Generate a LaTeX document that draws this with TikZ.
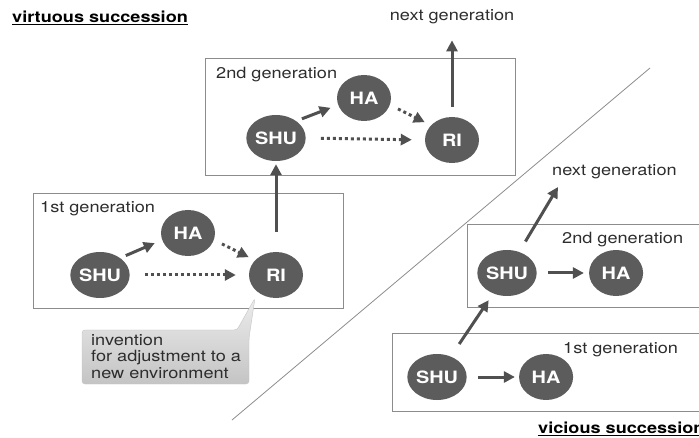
\documentclass[tikz,border=0pt]{standalone}
\usepackage{fontspec}
\setmainfont{TeX Gyre Heros}[FakeStretch=1.17]
\usetikzlibrary{arrows.meta,positioning,shapes.geometric}
\definecolor{successStage}{RGB}{92, 92, 92}
\definecolor{successArrow}{RGB}{80, 80, 80}
\definecolor{successBox}{RGB}{140, 140, 140}
\definecolor{successText}{RGB}{45, 45, 45}
\definecolor{calloutTop}{RGB}{236, 236, 236}
\definecolor{calloutBottom}{RGB}{196, 196, 196}
\newcommand\genfont{\fontsize{15.5}{16.5}\selectfont}

\begin{document}
\begin{tikzpicture}[
  x=1pt, y=-1pt,
  stage/.style={
    ellipse,
    fill=successStage,
    minimum width=54pt,
    minimum height=46pt,
    inner sep=0pt,
    text=white,
    font=\bfseries\fontsize{17}{17}\selectfont
  },
  genbox/.style={draw=successBox, line width=1pt},
  gentext/.style={anchor=west, inner sep=0pt, text=successText, font=\genfont},
  title/.style={gentext, text=black, font=\bfseries\genfont},
  arrow/.style={-{Triangle[length=11pt,width=11pt]}, line width=3pt, successArrow},
  dotarrow/.style={arrow, dash pattern=on 3pt off 3pt}
]
  \useasboundingbox (0,0) rectangle (699,438);
  \clip (0,0) rectangle (699,438);

  % virtuous succession
  \node[title] (virtTitle) at (12,18) {\underline{virtuous succession}};
  \draw[genbox] (33,194) rectangle (343,309);
  \draw[genbox] (205,59) rectangle (515,176);
  \node[gentext] (genA) at (40,209) {1st generation};
  \node[gentext] (genB) at (216,75) {2nd generation};
  \node[gentext, anchor=center] (nextA) at (452,17) {next generation};

  \node[stage] (shuA) at (100,275) {SHU};
  \node[stage] (haA) at (188,233) {HA};
  \node[stage] (riA) at (276,275) {RI};
  \node[stage] (shuB) at (276,138) {SHU};
  \node[stage] (haB) at (364,98) {HA};
  \node[stage] (riB) at (452,140) {RI};

  \draw[arrow, shorten <=6pt, shorten >=8pt] (shuA.40) -- (haA.195);
  \draw[dotarrow, shorten <=9pt, shorten >=7pt] (haA.-15) -- (riA.145);
  \draw[dotarrow, shorten <=15pt, shorten >=13pt] (shuA.east) -- (riA.west);
  \draw[arrow, shorten <=6pt, shorten >=8pt] (shuB.40) -- (haB.195);
  \draw[dotarrow, shorten <=9pt, shorten >=7pt] (haB.-15) -- (riB.145);
  \draw[dotarrow, shorten <=15pt, shorten >=13pt] (shuB.east) -- (riB.west);
  \draw[arrow, shorten <=20pt, shorten >=3pt] (riA) -- (shuB);
  \draw[arrow, shorten <=10pt, shorten >=16pt] (riB) -- (nextA);

  % callout
  \draw[draw=calloutBottom, top color=calloutTop, bottom color=calloutBottom, rounded corners=3pt]
    (82,330) -- (237,330) -- (255,298) -- (249,338) -- (249,384) -- (82,384) -- cycle;
  \node[gentext, anchor=north west, align=left] (invention) at (91,334)
    {invention\\for adjustment to a\\new environment};

  % divider
  \draw[successBox, line width=0.8pt] (650,68) -- (232,420);

  % vicious succession
  \draw[genbox] (392,334) rectangle (710,411);
  \draw[genbox] (467,225) rectangle (710,308);
  \node[gentext] (genC) at (563,350) {1st generation};
  \node[gentext] (genD) at (562,240) {2nd generation};
  \node[gentext] (nextB) at (552,172) {next generation};

  \node[stage] (shuC) at (437,377) {SHU};
  \node[stage, right=52pt of shuC] (haC) {HA};
  \node[stage] (shuD) at (507,273) {SHU};
  \node[stage, right=52pt of shuD] (haD) {HA};
  \coordinate (upTip) at (558,187);

  \draw[arrow, shorten <=11pt, shorten >=4pt] (shuC) -- (haC);
  \draw[arrow, shorten <=11pt, shorten >=5pt] (shuD) -- (haD);
  \draw[arrow, shorten <=15pt, shorten >=8pt] (shuC) -- (shuD);
  \draw[arrow, shorten <=12pt] (shuD.60) -- (upTip);

  \node[title] (viciousTitle) at (538,429) {\underline{vicious succession}};
\end{tikzpicture}
\end{document}
